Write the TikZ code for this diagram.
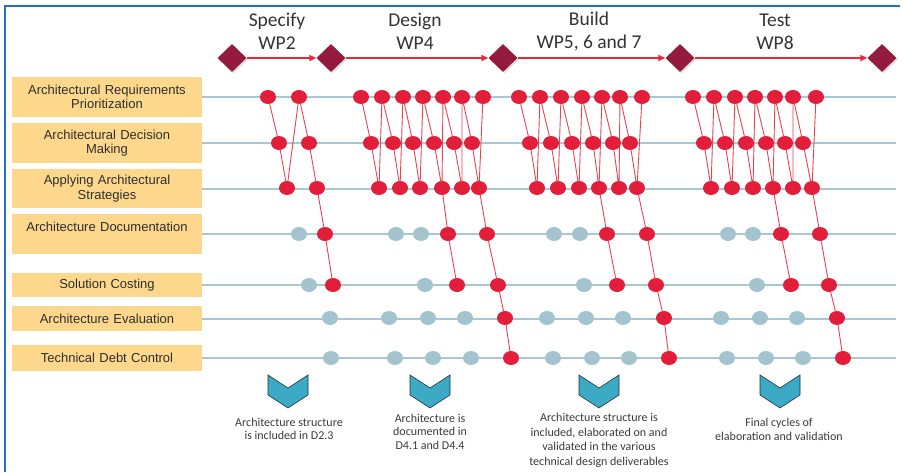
\documentclass[tikz,border=0pt]{standalone}
\usepackage{fontspec}
\setmainfont{Liberation Sans}
\newfontfamily\calfont{Carlito}
\usetikzlibrary{shapes.geometric,arrows.meta,shadows}
\pgfdeclarelayer{bg}
\pgfsetlayers{bg,main}
\definecolor{frameblue}{HTML}{1F72C4}
\definecolor{boxfill}{HTML}{FDD88C}
\definecolor{labtext}{HTML}{2E2E2E}
\definecolor{dotred}{HTML}{E31E3B}
\definecolor{connred}{HTML}{E8414F}
\definecolor{lineblue}{HTML}{A7C7D5}
\definecolor{dotblue}{HTML}{A3C3CF}
\definecolor{maroon}{HTML}{941B3D}
\definecolor{arrred}{HTML}{E5283A}
\definecolor{chevfill}{HTML}{3CA9C5}
\definecolor{chevline}{HTML}{1E3340}
\definecolor{headtext}{HTML}{333333}
\definecolor{notetext}{HTML}{3A3A3A}
\tikzset{
 frame/.style={draw=frameblue, line width=1.3pt},
 lbl/.style={fill=boxfill, minimum width=190pt, text width=186pt, align=center, inner sep=0pt, font=\fontsize{13}{14.5}\selectfont, text=labtext},
 rdot/.style={ellipse, fill=dotred, minimum width=16pt, minimum height=14pt, inner sep=0pt},
 bdot/.style={ellipse, fill=dotblue, minimum width=16pt, minimum height=14pt, inner sep=0pt},
 conn/.style={draw=connred, line width=0.9pt},
 rowline/.style={draw=lineblue, line width=2pt},
 milestone/.style={diamond, fill=maroon, minimum width=29pt, minimum height=28pt, inner sep=0pt, drop shadow={shadow xshift=1.5pt, shadow yshift=-1.5pt, opacity=0.25}},
 phase/.style={draw=arrred, line width=2pt, -{Triangle[length=7pt,width=6pt]}},
 phasetext/.style={font=\calfont\fontsize{19.5}{23}\selectfont, align=center, text=headtext},
 note/.style={font=\calfont\fontsize{12}{13.5}\selectfont, align=center, text=notetext},
 chev/.style={fill=chevfill, draw=chevline, line width=0.6pt}
}
\begin{document}
\begin{tikzpicture}[x=1pt,y=-1pt]
\useasboundingbox (0,0) rectangle (905,472);
% frame
\coordinate (fbl) at (5,472);
\coordinate (ftl) at (5,6);
\coordinate (ftr) at (900,6);
\draw[frame] (fbl) -- (ftl) -- (ftr);

% phase headings
\node[phasetext] (P1) at (277,31.5) {Specify\\WP2};
\node[phasetext] (P2) at (415,31.5) {Design\\WP4};
\node[phasetext] (P3) at (589,31.5) {Build\\WP5, 6 and 7};
\node[phasetext] (P4) at (775,31.5) {Test\\WP8};

% milestones
\foreach \x [count=\i] in {232,331,503,680,882}
  \node[milestone] (M\i) at (\x,58) {};
\foreach \i in {1,...,4} {
  \pgfmathtruncatemacro\j{\i+1}
  \draw[phase] (M\i) -- (M\j);
}

% activity labels
\node[lbl, minimum height=40pt] (L1) at (107,97) {Architectural Requirements\\Prioritization};
\node[lbl, minimum height=40pt] (L2) at (107,143) {Architectural Decision\\Making};
\node[lbl, minimum height=39pt] (L3) at (107,188.5) {Applying Architectural\\Strategies};
\node[lbl, minimum height=40pt] (L4) at (107,234) {Architecture Documentation\\\mbox{}};
\node[lbl, minimum height=24pt] (L5) at (107,285) {Solution Costing};
\node[lbl, minimum height=25pt] (L6) at (107,318.5) {Architecture Evaluation};
\node[lbl, minimum height=26pt] (L7) at (107,358) {Technical Debt Control};

\foreach \y [count=\i] in {97,143,188.5,234,285,318.5,358}
  \coordinate (E\i) at (896,\y);
\begin{pgfonlayer}{bg}
\foreach \i in {1,...,7} \draw[rowline] (L\i.east) -- (E\i);
\end{pgfonlayer}

% blue (inactive) dots
\foreach \x [count=\i] in {299,396,421,554,580,728,753} \node[bdot] (qD\i) at (\x,234) {};
\foreach \x [count=\i] in {309,425,584,757} \node[bdot] (qE\i) at (\x,285) {};
\foreach \x [count=\i] in {330,389,428,465,547,586,623,721,760,797} \node[bdot] (qF\i) at (\x,318) {};
\foreach \x [count=\i] in {331,395,433,471,553,592,629,727,766,803} \node[bdot] (qG\i) at (\x,358) {};

% Specify cycle
\foreach \x [count=\i] in {268,299} \node[rdot] (sA\i) at (\x,97) {};
\foreach \x [count=\i] in {279,309} \node[rdot] (sB\i) at (\x,143) {};
\foreach \x [count=\i] in {287,317} \node[rdot] (sC\i) at (\x,188) {};
\node[rdot] (sD) at (325,234) {};
\node[rdot] (sE) at (333,285) {};
\begin{pgfonlayer}{bg}
\draw[conn] (sA1) -- (sB1) -- (sC1) -- (sA2) -- (sB2) -- (sC2) -- (sD) -- (sE);
\end{pgfonlayer}

% Design cycle
\foreach \x [count=\i] in {361,382,403,423,443,462,483} \node[rdot] (dA\i) at (\x,97) {};
\foreach \x [count=\i] in {371,393,413,434,454,472} \node[rdot] (dB\i) at (\x,143) {};
\foreach \x [count=\i] in {379,400,420,442,462,479} \node[rdot] (dC\i) at (\x,188) {};
\node[rdot] (dD1) at (448,234) {};
\node[rdot] (dE1) at (457,285) {};
\node[rdot] (dD2) at (487,234) {};
\node[rdot] (dE2) at (498,285) {};
\node[rdot] (dF) at (505,318) {};
\node[rdot] (dG) at (511,358) {};

% Build cycle
\foreach \x [count=\i] in {519,540,561,582,602,620,642} \node[rdot] (bA\i) at (\x,97) {};
\foreach \x [count=\i] in {530,551,572,593,613,630} \node[rdot] (bB\i) at (\x,143) {};
\foreach \x [count=\i] in {537,558,579,599,619,637} \node[rdot] (bC\i) at (\x,188) {};
\node[rdot] (bD1) at (607,234) {};
\node[rdot] (bE1) at (617,285) {};
\node[rdot] (bD2) at (647,234) {};
\node[rdot] (bE2) at (656,285) {};
\node[rdot] (bF) at (664,318) {};
\node[rdot] (bG) at (669,358) {};

% Test cycle
\foreach \x [count=\i] in {693,714,735,755,775,793,816} \node[rdot] (tA\i) at (\x,97) {};
\foreach \x [count=\i] in {704,725,746,766,785,803} \node[rdot] (tB\i) at (\x,143) {};
\foreach \x [count=\i] in {711,732,753,773,793,812} \node[rdot] (tC\i) at (\x,188) {};
\node[rdot] (tD1) at (781,234) {};
\node[rdot] (tE1) at (791,285) {};
\node[rdot] (tD2) at (820,234) {};
\node[rdot] (tE2) at (829,285) {};
\node[rdot] (tF) at (837,318) {};
\node[rdot] (tG) at (843,358) {};

\begin{pgfonlayer}{bg}
\foreach \c in {d,b,t} {
  \foreach \i in {1,...,6} {
    \pgfmathtruncatemacro\j{\i+1}
    \draw[conn] (\c A\i) -- (\c B\i) -- (\c C\i) -- (\c A\j);
  }
  \draw[conn] (\c C4) -- (\c D1) -- (\c E1);
  \draw[conn] (\c C6) -- (\c D2) -- (\c E2) -- (\c F) -- (\c G);
}
\end{pgfonlayer}

% chevrons
\foreach \cx in {288,430,599,780}
  \draw[chev] (\cx-20,375) -- (\cx,388) -- (\cx+20,375) -- (\cx+20,395) -- (\cx,408) -- (\cx-20,395) -- cycle;

% notes
\node[note] (N1) at (289,428.7) {Architecture structure\\is included in D2.3};
\node[note] (N2) at (430,431.7) {Architecture is\\documented in\\D4.1 and D4.4};
\node[note, font=\calfont\fontsize{12}{14.5}\selectfont] (N3) at (599,440.5) {Architecture structure is\\included, elaborated on and\\validated in the various\\technical design deliverables};
\node[note] (N4) at (779,429.5) {Final cycles of\\elaboration and validation};
\end{tikzpicture}
\end{document}
